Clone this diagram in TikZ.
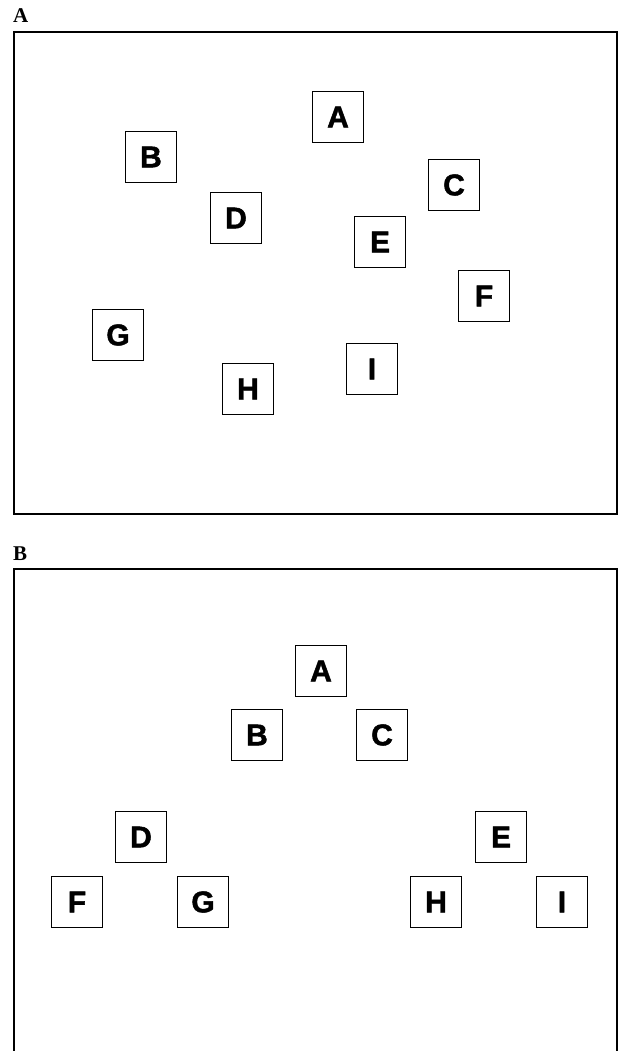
\documentclass[tikz,border=0pt]{standalone}
\usepackage{fontspec}
\setmainfont{Liberation Serif}
\newfontfamily\boxfont[FakeBold=1.6]{Liberation Sans}
\usepackage{tikz}
\usetikzlibrary{positioning}
\tikzset{
  letterbox/.style={rectangle, draw=black, line width=1.3pt, minimum size=51pt, inner sep=0pt, fill=white, font=\boxfont\bfseries\fontsize{30}{30}\selectfont},
  panelframe/.style={draw=black, line width=1.8pt},
  panellabel/.style={anchor=base west, inner sep=0pt, font=\bfseries\fontsize{21}{21}\selectfont},
}
\begin{document}
\begin{tikzpicture}[x=1pt, y=-1pt]
\useasboundingbox (0,0) rectangle (621,1051);
% panel A: scattered
\node (labA) [panellabel] at (13,23) {A};
\draw[panelframe] (14,32) rectangle (617,514);
\node (aA) [letterbox] at (338,117) {A};
\node (aB) [letterbox] at (151,157) {B};
\node (aC) [letterbox] at (454,185) {C};
\node (aD) [letterbox] at (236,218) {D};
\node (aE) [letterbox] at (380,242) {E};
\node (aF) [letterbox] at (484,296) {F};
\node (aG) [letterbox] at (118,335) {G};
\node (aH) [letterbox] at (248,389) {H};
\node (aI) [letterbox] at (372,369) {I};
% panel B: tree layout
\node (labB) [panellabel] at (13,560) {B};
\draw[panelframe] (14,1060) -- (14,569) -- (617,569) -- (617,1060);
\node (bA) [letterbox] at (321,671) {A};
\node (bB) [letterbox] at (257,735) {B};
\node (bC) [letterbox] at (382,735) {C};
\node (bD) [letterbox] at (141,837) {D};
\node (bE) [letterbox] at (501,837) {E};
\node (bF) [letterbox] at (77,902) {F};
\node (bG) [letterbox] at (203,902) {G};
\node (bH) [letterbox] at (436,902) {H};
\node (bI) [letterbox] at (562,902) {I};
\end{tikzpicture}
\end{document}
